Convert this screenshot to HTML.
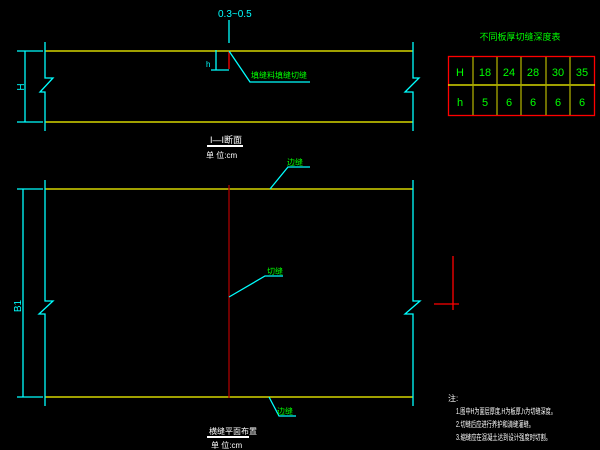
<!DOCTYPE html>
<html><head><meta charset="utf-8"><style>
body{margin:0;background:#000;width:600px;height:450px;overflow:hidden}
svg{display:block}
text{font-family:"Liberation Sans","Noto Sans CJK SC",sans-serif}
</style></head><body>
<svg width="600" height="450" viewBox="0 0 600 450">
<g stroke-width="1.3" fill="none">
<line x1="45" y1="51" x2="413" y2="51" stroke="#ffff00"/>
<line x1="45" y1="122" x2="413" y2="122" stroke="#ffff00"/>
<polyline points="45,42 45,78 53,78 40,92 45,92 45,131" stroke="#00ffff"/>
<polyline points="413,42 413,78 419,78 405,92 413,92 413,131" stroke="#00ffff"/>
<line x1="25" y1="51" x2="25" y2="122" stroke="#00ffff"/>
<line x1="17" y1="51" x2="43" y2="51" stroke="#00ffff"/>
<line x1="17" y1="122" x2="43" y2="122" stroke="#00ffff"/>
<line x1="229" y1="20" x2="229" y2="43" stroke="#00ffff"/>
<line x1="229" y1="51" x2="229" y2="69" stroke="#ff0000"/>
<line x1="216" y1="50" x2="216" y2="70" stroke="#00ffff"/>
<line x1="211" y1="70" x2="229" y2="70" stroke="#00ffff"/>
<polyline points="229,51 250,82 310,82" stroke="#00ffff"/>
<line x1="207" y1="146" x2="243" y2="146" stroke="#ffffff" stroke-width="2"/>
<line x1="45" y1="189" x2="413" y2="189" stroke="#ffff00"/>
<line x1="45" y1="397" x2="413" y2="397" stroke="#ffff00"/>
<polyline points="45,180 45,301 53,301 39,314 45,314 45,406" stroke="#00ffff"/>
<polyline points="413,180 413,301 420,301 405,314 413,314 413,406" stroke="#00ffff"/>
<line x1="23" y1="189" x2="23" y2="397" stroke="#00ffff"/>
<line x1="17" y1="189" x2="43" y2="189" stroke="#00ffff"/>
<line x1="17" y1="397" x2="43" y2="397" stroke="#00ffff"/>
<line x1="229" y1="185" x2="229" y2="398" stroke="#aa0000"/>
<polyline points="229,297 265,276 283,276" stroke="#00ffff"/>
<polyline points="270,189 288,167 310,167" stroke="#00ffff"/>
<polyline points="269,397 279,416 296,416" stroke="#00ffff"/>
<line x1="207" y1="437" x2="249" y2="437" stroke="#ffffff" stroke-width="2"/>
<line x1="453" y1="256" x2="453" y2="310" stroke="#ff0000"/>
<line x1="434" y1="304" x2="459" y2="304" stroke="#ff0000"/>
<rect x="448.5" y="56.5" width="146" height="59" stroke="#ff0000"/>
<line x1="448" y1="85" x2="595" y2="85" stroke="#ffff00"/>
<g stroke="#aaaa00"><line x1="473" y1="57" x2="473" y2="115"/><line x1="497" y1="57" x2="497" y2="115"/><line x1="521" y1="57" x2="521" y2="115"/><line x1="546" y1="57" x2="546" y2="115"/><line x1="570" y1="57" x2="570" y2="115"/></g>
</g>
<g font-size="11" fill="#00ff00" text-anchor="middle">
<text x="460" y="76">H</text><text x="485" y="76">18</text><text x="509" y="76">24</text><text x="533" y="76">28</text><text x="558" y="76">30</text><text x="582" y="76">35</text>
<text x="460" y="106">h</text><text x="485" y="106">5</text><text x="509" y="106">6</text><text x="533" y="106">6</text><text x="558" y="106">6</text><text x="582" y="106">6</text>
<text x="520" y="40" font-size="9">不同板厚切缝深度表</text>
</g>
<g fill="#00ff00" font-size="8">
<text x="251" y="78">填缝料填缝切缝</text>
<text x="287" y="165">边缝</text>
<text x="267" y="274">切缝</text>
<text x="277" y="414">边缝</text>
</g>
<g fill="#00ffff" font-size="10">
<text x="218" y="17">0.3~0.5</text>
<text x="206" y="67" font-size="8">h</text>
<text x="20" y="91" transform="rotate(-90 20 87)" text-anchor="middle">H</text>
<text x="17" y="310" transform="rotate(-90 17 306)" text-anchor="middle">B1</text>
</g>
<g fill="#ffffff" font-size="8">
<text x="210" y="143" font-size="9">I—I断面</text>
<text x="206" y="158">单 位:cm</text>
<text x="209" y="434">横缝平面布置</text>
<text x="211" y="448">单 位:cm</text>
<text x="448" y="401">注:</text>
<text x="456" y="414" font-size="8" textLength="100" lengthAdjust="spacingAndGlyphs">1.图中H为面层厚度,H为板厚,h为切缝深度。</text>
<text x="456" y="427" font-size="8" textLength="78" lengthAdjust="spacingAndGlyphs">2.切缝后应进行养护和清缝灌缝。</text>
<text x="456" y="440" font-size="8" textLength="95" lengthAdjust="spacingAndGlyphs">3.缩缝应在混凝土达到设计强度时切割。</text>
</g>
</svg>
</body></html>
